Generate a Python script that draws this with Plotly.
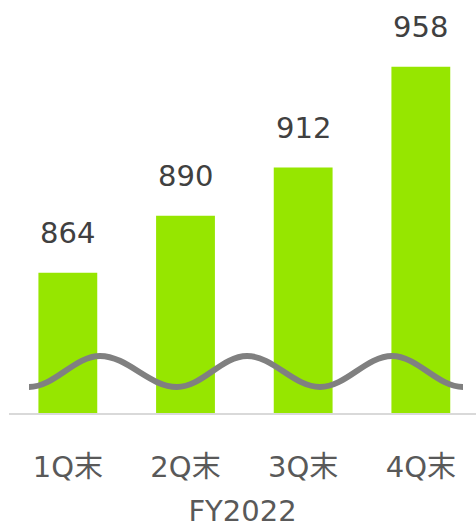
import plotly.graph_objects as go

# Quarter-end values for FY2022
categories = ["1Q末", "2Q末", "3Q末", "4Q末"]
values = [864, 890, 912, 958]
period_label = "FY2022"

BAR_COLOR = "#96E600"
VALUE_COLOR = "#404040"
AXIS_TEXT_COLOR = "#595959"
FONT = "DejaVu Sans, Noto Sans CJK JP, sans-serif"
FONT_SIZE = 29

W, H = 476, 528
M_L, M_R, M_T, M_B = 9, 0, 0, 115

fig = go.Figure()
fig.add_trace(go.Bar(
    x=categories,
    y=values,
    marker=dict(color=BAR_COLOR, line=dict(width=0)),
    width=0.5,
    hoverinfo="x+y",
))

# value labels above each bar
for c, v in zip(categories, values):
    fig.add_annotation(
        x=c, y=v, text=str(v), showarrow=False,
        yanchor="middle", yshift=40,
        font=dict(size=FONT_SIZE, color=VALUE_COLOR, family=FONT),
    )

# wavy axis-break marker across the bars (paper coordinates)
plot_w = W - M_L - M_R
plot_h = H - M_T - M_B
def px(x):
    return (x - M_L) / plot_w
def py(y):
    return (H - M_B - y) / plot_h

ext_x = [29, 100, 177, 247, 320, 392, 463]
ext_y = [387, 356, 387, 356, 387, 356, 387]
path = f"M {px(ext_x[0])},{py(ext_y[0])}"
for i in range(1, len(ext_x)):
    x0, y0 = ext_x[i - 1], ext_y[i - 1]
    x1, y1 = ext_x[i], ext_y[i]
    d = (x1 - x0) * 0.36
    path += (f" C {px(x0 + d)},{py(y0)} {px(x1 - d)},{py(y1)} "
             f"{px(x1)},{py(y1)}")
fig.add_shape(type="path", path=path, xref="paper", yref="paper",
              line=dict(color="#808080", width=6), layer="above")

step = (421 - 68) / 3
fig.update_layout(
    width=W, height=H,
    margin=dict(l=M_L, r=M_R, t=M_T, b=M_B),
    paper_bgcolor="white", plot_bgcolor="white",
    showlegend=False,
    bargap=0.5,
    font=dict(family=FONT, color=AXIS_TEXT_COLOR),
    xaxis=dict(
        type="category",
        range=[-0.5, -0.5 + plot_w / step],
        showgrid=False, zeroline=False,
        showline=True, linecolor="#D9D9D9", linewidth=2,
        ticks="", ticklabelstandoff=27,
        tickfont=dict(size=FONT_SIZE, color=AXIS_TEXT_COLOR, family=FONT),
        title=dict(text=period_label, standoff=20,
                   font=dict(size=FONT_SIZE, color=AXIS_TEXT_COLOR,
                             family=FONT)),
    ),
    yaxis=dict(
        range=[800, 800 + plot_h / 2.1915],
        visible=False, showgrid=False, zeroline=False,
    ),
)

fig.write_html("out.html")
